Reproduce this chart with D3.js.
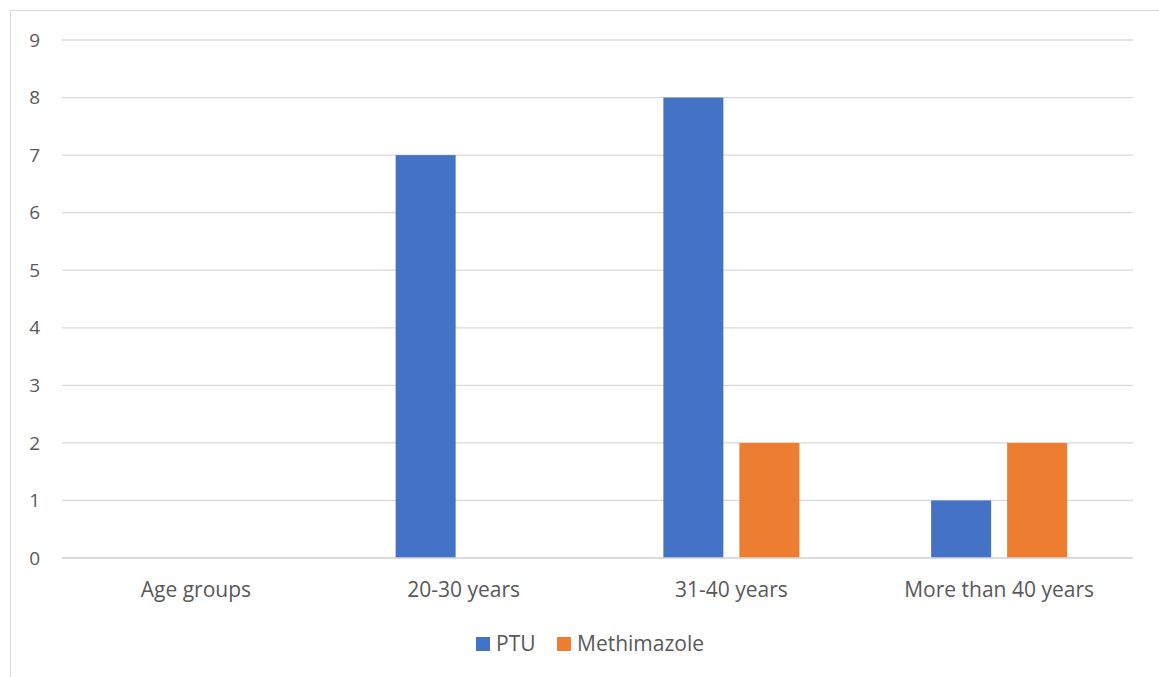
<!DOCTYPE html>
<html><head><meta charset="utf-8">
<script src="https://cdn.jsdelivr.net/npm/d3@7"></script>
<style>body{margin:0;background:#fff}</style>
</head><body>
<svg id="c" width="1159" height="677"></svg>
<script>
const categories = ["Age groups", "20-30 years", "31-40 years", "More than 40 years"];
const seriesNames = ["PTU", "Methimazole"];
const ptu = [0, 7, 8, 1];
const methimazole = [0, 0, 2, 2];
const yTicks = [0,1,2,3,4,5,6,7,8,9];
const colors = ["#4472C4", "#ED7D31"];

const svg = d3.select("#c");
const font = "'Open Sans', 'Noto Sans', sans-serif";
svg.append("rect").attr("x",10.5).attr("y",10.5).attr("width",1160).attr("height",700)
  .attr("fill","#fff").attr("stroke","#d9d9d9").attr("stroke-width",1);

const x0 = d3.scaleBand().domain(categories).range([62,1133]).paddingInner(0.492).paddingOuter(0.246);
const x1 = d3.scaleBand().domain(seriesNames).range([0, x0.bandwidth()]).paddingInner(0.2105);
const y = d3.scaleLinear().domain([0,9]).range([558,40]);

const g = svg.append("g");
g.selectAll("line.grid").data(yTicks).join("line")
  .attr("x1",62).attr("x2",1133).attr("y1",d=>y(d)).attr("y2",d=>y(d))
  .attr("stroke","#d9d9d9").attr("stroke-width",1.3);

g.selectAll("text.yt").data(yTicks).join("text")
  .attr("x",40).attr("y",d=>y(d)).attr("dy","0.35em").attr("text-anchor","end")
  .attr("font-family",font).attr("font-size",19).attr("fill","#595959").text(d=>d);

const data = categories.map((c,i)=>({c, vals:[ptu[i], methimazole[i]]}));
const cg = g.selectAll("g.cat").data(data).join("g").attr("transform",d=>`translate(${x0(d.c)},0)`);
cg.selectAll("rect").data(d=>d.vals.map((v,j)=>({v, s:seriesNames[j], j}))).join("rect")
  .attr("x",d=>x1(d.s)).attr("width",x1.bandwidth())
  .attr("y",d=>y(d.v)).attr("height",d=>y(0)-y(d.v))
  .attr("fill",d=>colors[d.j]);

g.append("line").attr("x1",62).attr("x2",1133).attr("y1",y(0)).attr("y2",y(0))
  .attr("stroke","#d9d9d9").attr("stroke-width",1.3);

g.selectAll("text.xt").data(categories).join("text")
  .attr("x",d=>x0(d)+x0.bandwidth()/2).attr("y",597).attr("text-anchor","middle")
  .attr("font-family",font).attr("font-size",21).attr("fill","#595959").text(d=>d);

const legX = [476, 557];
const lg = svg.selectAll("g.leg").data(seriesNames).join("g").attr("transform",(d,i)=>`translate(${legX[i]},637)`);
lg.append("rect").attr("width",14).attr("height",14).attr("fill",(d,i)=>colors[i]);
lg.append("text").attr("x",20).attr("y",14).attr("font-family",font).attr("font-size",21)
  .attr("fill","#595959").text(d=>d);
</script>
</body></html>
